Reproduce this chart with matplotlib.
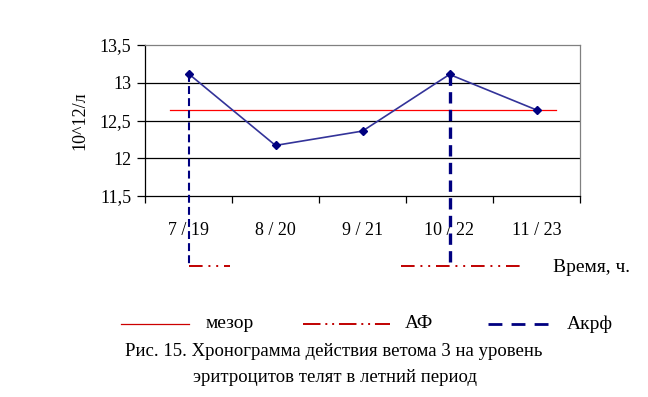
import matplotlib
matplotlib.use("Agg")
import matplotlib.pyplot as plt
from matplotlib.lines import Line2D

plt.rcParams['font.family'] = ['Liberation Serif', 'DejaVu Serif']

categories = ["7 / 19", "8 / 20", "9 / 21", "10 / 22", "11 / 23"]
values = [13.12, 12.17, 12.36, 13.11, 12.64]
mesor = 12.635
mesor_span = [-0.21, 4.22]
acrophase_idx = [0, 3]
af_spans = [[0.0, 0.48], [2.44, 3.83]]
yticks = [11.5, 12.0, 12.5, 13.0, 13.5]
ytick_labels = ["11,5", "12", "12,5", "13", "13,5"]

FS = 13
FL = 14
FC = 13.5
fig = plt.figure(figsize=(6.48, 3.97), dpi=100)
ax = fig.add_axes([145/648, 1-196/397, 435/648, 151/397])
x = list(range(len(categories)))
ax.set_xlim(-0.5, len(categories) - 0.5)
ax.set_ylim(11.5, 13.5)

for v in yticks[1:-1]:
    ax.axhline(v, color='black', lw=0.9, zorder=1)
for s in ['top', 'right']:
    ax.spines[s].set_color('#808080')
    ax.spines[s].set_linewidth(0.9)
for s in ['left', 'bottom']:
    ax.spines[s].set_color('black')
    ax.spines[s].set_linewidth(0.9)

ax.set_yticks(yticks)
ax.set_yticklabels(ytick_labels, fontsize=FS)
ax.set_xticks([i - 0.5 for i in range(len(categories) + 1)])
ax.set_xticklabels([])
ax.set_xticks(x, minor=True)
ax.set_xticklabels(categories, minor=True, fontsize=FS)
ax.tick_params(axis='x', which='minor', length=0, pad=19)
ax.tick_params(axis='x', which='major', length=5, width=0.9, direction='out')
ax.tick_params(axis='y', length=6, width=0.9, direction='out', pad=4)
ax.set_ylabel("10^12/л", fontsize=FS, labelpad=8)

# mesor
ax.plot(mesor_span, [mesor, mesor], color='#FF0000', lw=0.9, zorder=2)
# series
ax.plot(x, values, color='#333399', lw=1.2, marker='D', markersize=4,
        markerfacecolor='#000080', markeredgecolor='#000080', zorder=4)

y_floor = 10.573
# acrophase verticals
styles = [(1.5, (0, (3.8, 2.0))), (2.4, (0, (3.4, 1.9)))]
for (lw, ls), i in zip(styles, acrophase_idx):
    ax.plot([i, i], [values[i], y_floor], color='#000080',
            lw=lw, linestyle=ls, clip_on=False, zorder=5)
# AF horizontal
for a, b in af_spans:
    ax.plot([a, b], [y_floor, y_floor], color='#C00000', lw=1.4,
            linestyle=(0, (7, 3, 1, 3, 1, 3)), clip_on=False, zorder=3)

fig.text(553/648, 1-268/397, "Время, ч.", fontsize=FL, va='center', ha='left')

# legend
ly = 1 - 324/397
fig.add_artist(Line2D([121/648, 189/648], [ly, ly], color='#CC0000', lw=0.9))
fig.text(206/648, ly, "мезор", fontsize=FL, va='center')
fig.add_artist(Line2D([303/648, 390/648], [ly, ly], color='#C00000', lw=1.4,
                      linestyle=(0, (9, 2.5, 1, 2.5, 1, 2.5))))
fig.text(405/648, ly, "АФ", fontsize=FL, va='center')
fig.add_artist(Line2D([488/648, 557/648], [ly, ly], color='#000080', lw=2.0,
                      linestyle=(0, (5, 3.3))))
fig.text(567/648, ly, "Акрф", fontsize=FL, va='center')

fig.text(125/648, 1-352/397, "Рис. 15. Хронограмма действия ветома 3 на уровень",
         fontsize=FC, va='center')
fig.text(193/648, 1-377/397, "эритроцитов телят в летний период",
         fontsize=FC, va='center')

fig.savefig("out.png", dpi=100)
